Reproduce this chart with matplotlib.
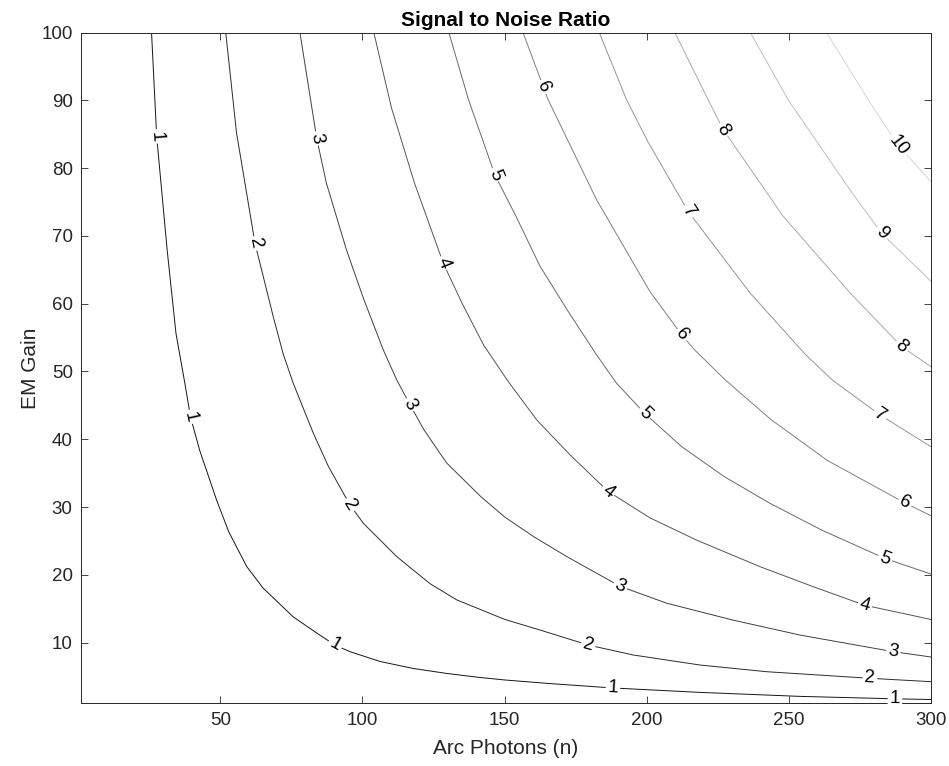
import numpy as np
import matplotlib
matplotlib.use("Agg")
import matplotlib.pyplot as plt

plt.rcParams["font.family"] = ["Liberation Sans", "DejaVu Sans"]

# SNR contour levels
levels = [1, 2, 3, 4, 5, 6, 7, 8, 9, 10]

# vertices of each contour: arc photons (n) and EM gain
n_snr1 = [25.8, 27.6, 31.3, 34.4, 37.5, 39.5, 42.7, 48.7, 53.0, 59.3, 65.0, 75.6, 83.9,
          90.3, 95.6, 106.1, 117.7, 129.7, 141.3, 150.1, 165.9, 188.1, 218.7, 253.9, 287.3, 300.0]
g_snr1 = [100.0, 84.7, 67.9, 55.6, 48.3, 43.3, 38.4, 31.0, 26.3, 21.2, 18.05, 13.8, 11.4,
          9.63, 8.65, 7.21, 6.18, 5.43, 4.84, 4.47, 3.94, 3.29, 2.64, 2.05, 1.69, 1.59]
n_snr2 = [51.9, 55.7, 62.2, 68.6, 72.1, 75.6, 82.7, 88.0, 95.6, 100.3, 112.0,
          123.7, 133.1, 150.1, 162.4, 179.4, 195.2, 218.7, 242.2, 278.5, 300.0]
g_snr2 = [100.0, 85.2, 68.9, 58.1, 52.6, 48.3, 40.9, 36.0, 30.3, 27.6, 22.7,
          18.7, 16.3, 13.4, 11.85, 9.63, 8.16, 6.68, 5.69, 4.72, 4.22]
n_snr3 = [78.0, 83.9, 87.3, 94.4, 100.5, 107.3, 112.0, 116.7, 121.6, 129.6, 141.7,
          150.1, 160.3, 171.8, 190.6, 207.0, 230.4, 253.9, 286.7, 300.0]
g_snr3 = [100.0, 84.4, 77.8, 67.9, 60.6, 53.2, 48.8, 45.1, 41.4, 36.5, 31.5,
          28.5, 25.6, 22.7, 18.3, 15.8, 13.3, 11.1, 8.65, 7.86]
n_snr4 = [104.0, 110.2, 118.3, 128.4, 135.0, 142.6, 151.3, 161.4, 173.0, 186.4,
          201.1, 217.6, 239.8, 258.8, 276.7, 300.0]
g_snr4 = [100.0, 88.9, 77.8, 66.0, 60.1, 53.9, 48.5, 42.8, 37.7, 32.3,
          28.4, 25.1, 21.2, 18.2, 15.5, 13.4]
n_snr5 = [130.4, 137.3, 146.6, 154.0, 162.5, 172.0, 182.1, 189.3, 199.3, 212.3,
          227.2, 243.1, 261.5, 283.8, 300.0]
g_snr5 = [100.0, 90.1, 79.0, 72.9, 65.5, 59.1, 52.6, 48.3, 43.8, 38.9,
          34.5, 30.6, 26.6, 22.4, 20.1]
n_snr6 = [156.5, 165.3, 182.4, 201.1, 212.3, 216.8, 227.5, 243.7, 263.4, 290.8, 300.0]
g_snr6 = [100.0, 90.1, 75.3, 61.8, 55.4, 53.2, 48.8, 42.9, 36.9, 30.6, 28.7]
n_snr7 = [183.3, 192.9, 200.4, 214.6, 236.3, 255.6, 265.1, 282.0, 300.0]
g_snr7 = [100.0, 90.1, 83.9, 73.6, 61.6, 52.6, 48.8, 43.6, 38.9]
n_snr8 = [209.9, 221.6, 226.9, 248.0, 271.5, 289.6, 300.0]
g_snr8 = [100.0, 90.1, 85.7, 72.9, 61.6, 53.7, 50.7]
n_snr9 = [236.5, 249.7, 271.5, 282.6, 300.0]
g_snr9 = [100.0, 90.1, 76.8, 70.4, 63.3]
n_snr10 = [263.3, 277.9, 288.4, 300.0]
g_snr10 = [100.0, 90.1, 83.4, 78.0]

# arc-photon positions of the level numbers along each contour
labels1 = [27.6, 39.5, 90.3, 188.1, 287.3]
labels2 = [62.2, 95.6, 179.4, 278.5]
labels3 = [83.9, 116.7, 190.6, 286.7]
labels4 = [128.4, 186.4, 276.7]
labels5 = [146.6, 199.3, 283.8]
labels6 = [163.6, 212.3, 290.8]
labels7 = [214.6, 282.0]
labels8 = [226.9, 289.6]
labels9 = [282.6]
labels10 = [288.4]

contours = [
    (n_snr1, g_snr1, labels1), (n_snr2, g_snr2, labels2),
    (n_snr3, g_snr3, labels3), (n_snr4, g_snr4, labels4),
    (n_snr5, g_snr5, labels5), (n_snr6, g_snr6, labels6),
    (n_snr7, g_snr7, labels7), (n_snr8, g_snr8, labels8),
    (n_snr9, g_snr9, labels9), (n_snr10, g_snr10, labels10),
]

fig = plt.figure(figsize=(9.49, 7.66), dpi=100)
ax = fig.add_axes([0.0854, 0.0816, 0.8957, 0.8757])
ax.set_xlim(1, 300)
ax.set_ylim(1, 100)

for lev, (n, g, labs) in zip(levels, contours):
    shade = lev / 12
    ax.plot(n, g, color=(shade, shade, shade), lw=0.7, zorder=2)

    # rotate each number along the local direction of its line
    pts = ax.transData.transform(np.column_stack([n, g]))
    for ln in labs:
        lg = np.interp(ln, n, g)
        p = ax.transData.transform((ln, lg))
        i = int(np.argmin(np.hypot(*(pts - p).T)))
        j0, j1 = max(i - 1, 0), min(i + 1, len(pts) - 1)
        d = pts[j1] - pts[j0]
        ang = np.degrees(np.arctan2(d[1], d[0]))
        if ang > 90:
            ang -= 180
        elif ang < -90:
            ang += 180
        ax.text(ln, lg, str(lev), rotation=ang, rotation_mode="anchor",
                ha="center", va="center", fontsize=13.5, color="black",
                bbox=dict(fc="white", ec="none", pad=1.5), zorder=3)

ax.set_xticks([50, 100, 150, 200, 250, 300])
ax.set_yticks([10, 20, 30, 40, 50, 60, 70, 80, 90, 100])
ax.tick_params(direction="in", top=True, right=True, length=5, width=0.6,
               colors="0.15", labelsize=13.5, pad=6)
for sp in ax.spines.values():
    sp.set_color("0.15")
    sp.set_linewidth(0.7)

ax.set_xlabel("Arc Photons (n)", fontsize=15, color="0.15", labelpad=7)
ax.set_ylabel("EM Gain", fontsize=15, color="0.15", labelpad=1)
ax.set_title("Signal to Noise Ratio", fontsize=15, fontweight="bold", pad=5)

plt.savefig("out.png", dpi=100)
plt.close()
